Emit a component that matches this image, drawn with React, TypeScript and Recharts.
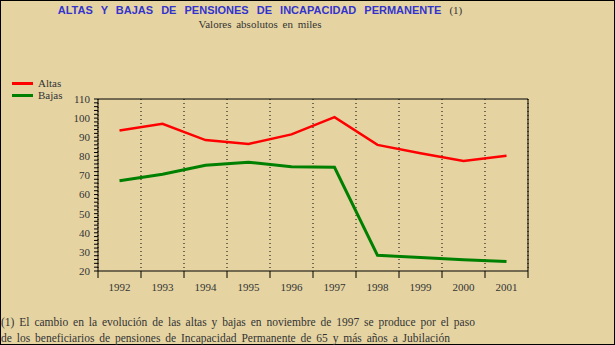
import React from "react";
import { LineChart, Line, XAxis, YAxis, CartesianGrid, ReferenceLine } from "recharts";

const years = ["1992", "1993", "1994", "1995", "1996", "1997", "1998", "1999", "2000", "2001"];
const altas = [93.5, 97, 88.5, 86.5, 91.5, 100.5, 86, 81.6, 77.6, 80.3];
const bajas = [67.2, 70.6, 75.3, 76.9, 74.6, 74.3, 28.2, 27, 25.9, 25];
const yTicks = [20, 22, 24, 26, 28, 30, 32, 34, 36, 38, 40, 42, 44, 46, 48, 50, 52, 54, 56, 58, 60, 62, 64, 66, 68, 70, 72, 74, 76, 78, 80, 82, 84, 86, 88, 90, 92, 94, 96, 98, 100, 102, 104, 106, 108, 110];
const xBounds = [0, 1, 2, 3, 4, 5, 6, 7, 8, 9, 10];

const data = years.map((y, i) => ({ x: i + 0.5, year: y, altas: altas[i], bajas: bajas[i] }));

const BG = "#e5d3a2";
const TXT = "#333333";
const serif = "'Liberation Serif', 'DejaVu Serif', serif";

const legendItems = [
    { label: "Altas", color: "#ff0000" },
    { label: "Bajas", color: "#008000" },
];

function YearTick(props: any) {
    const { x, y, payload, width } = props;
    const i = payload.value;
    if (i >= years.length) return null;
    const half = (width || 430) / years.length / 2;
    return (
        <text x={x + half} y={y} dy={11} textAnchor="middle" fill={TXT} fontSize={11} fontFamily={serif}>
            {years[i]}
        </text>
    );
}

export default function App() {
    return (
        <div
            style={{
                position: "absolute",
                left: 0,
                top: 0,
                width: 615,
                height: 345,
                background: BG,
                boxShadow: "inset 0 0 0 1px #000",
                overflow: "hidden",
            }}
        >
            <div
                style={{
                    position: "absolute",
                    top: 4,
                    left: 0,
                    width: 520,
                    textAlign: "center",
                    color: "#3333cc",
                    fontFamily: "'Liberation Sans', Arial, sans-serif",
                    fontWeight: "bold",
                    fontSize: 11,
                    wordSpacing: 5,
                    whiteSpace: "nowrap",
                }}
            >
                ALTAS Y BAJAS DE PENSIONES DE INCAPACIDAD PERMANENTE{" "}
                <span style={{ fontFamily: serif, fontWeight: "normal", fontSize: 11, color: TXT }}>(1)</span>
            </div>
            <div
                style={{
                    position: "absolute",
                    top: 18,
                    left: 0,
                    width: 520,
                    textAlign: "center",
                    color: TXT,
                    fontFamily: serif,
                    fontSize: 11,
                    wordSpacing: 2,
                }}
            >
                Valores absolutos en miles
            </div>

            <div
                style={{
                    position: "absolute",
                    left: 12,
                    top: 77,
                    fontFamily: serif,
                    fontSize: 11,
                    color: TXT,
                    lineHeight: "12px",
                }}
            >
                {legendItems.map((it) => (
                    <div key={it.label} style={{ display: "flex", alignItems: "center", height: 12 }}>
                        <div style={{ width: 21, height: 3, background: it.color, marginRight: 5 }} />
                        <span>{it.label}</span>
                    </div>
                ))}
            </div>

            <LineChart width={615} height={345} data={data} margin={{ top: 99, right: 87, bottom: 44, left: 0 }}>
                <CartesianGrid horizontal={false} stroke="#000" strokeDasharray="1 3" />
                <XAxis
                    dataKey="x"
                    type="number"
                    domain={[0, 10]}
                    ticks={xBounds}
                    interval={0}
                    height={30}
                    tickSize={7}
                    tickMargin={2}
                    stroke="#000"
                    tick={<YearTick />}
                />
                <YAxis
                    type="number"
                    domain={[20, 110]}
                    ticks={yTicks}
                    interval={0}
                    width={98}
                    tickSize={4}
                    tickMargin={4}
                    stroke="#000"
                    tick={{ fill: TXT, fontSize: 11, fontFamily: serif }}
                    tickFormatter={(v: number) => (v % 10 === 0 ? String(v) : "")}
                />
                <ReferenceLine y={110} stroke="#000" />
                <ReferenceLine x={10} stroke="#000" />
                <Line
                    dataKey="altas"
                    name="Altas"
                    stroke="#ff0000"
                    strokeWidth={2.5}
                    dot={false}
                    isAnimationActive={false}
                />
                <Line
                    dataKey="bajas"
                    name="Bajas"
                    stroke="#008000"
                    strokeWidth={3}
                    dot={false}
                    isAnimationActive={false}
                />
            </LineChart>

            <div
                style={{
                    position: "absolute",
                    left: 1,
                    top: 314,
                    color: TXT,
                    fontFamily: serif,
                    fontSize: 11.5,
                    lineHeight: "16px",
                    wordSpacing: 2,
                    whiteSpace: "nowrap",
                }}
            >
                <div>(1) El cambio en la evolución de las altas y bajas en noviembre de 1997 se produce por el paso</div>
                <div>de los beneficiarios de pensiones de Incapacidad Permanente de 65 y más años a Jubilación</div>
            </div>
        </div>
    );
}
